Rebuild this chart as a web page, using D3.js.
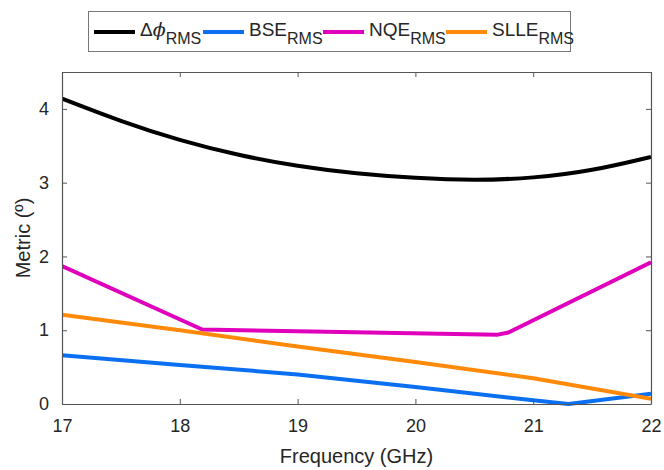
<!DOCTYPE html>
<html>
<head>
<meta charset="utf-8">
<script src="https://cdn.jsdelivr.net/npm/d3@7"></script>
<style>
  body { margin: 0; background: #fff; }
  text { font-family: 'Liberation Sans', Arial, sans-serif; fill: #262626; }
</style>
</head>
<body>
<div id="chart"></div>
<script>
// data
const phiFreq = [17, 17.5, 18, 18.5, 19, 19.5, 20, 20.5, 21, 21.5, 22];
const phiRms = [4.14, 3.83, 3.57, 3.37, 3.22, 3.12, 3.06, 3.03, 3.06, 3.16, 3.35];

const bseFreq = [17, 18, 19, 20, 21, 21.3, 22];
const bseRms = [0.66, 0.53, 0.4, 0.23, 0.05, 0.0, 0.14];

const nqeFreq = [17, 18.19, 20.7, 20.79, 22];
const nqeRms = [1.87, 1.01, 0.94, 0.97, 1.92];

const slleFreq = [17, 18, 19, 20, 21, 22];
const slleRms = [1.21, 1.0, 0.78, 0.57, 0.35, 0.07];

const xTicks = [17, 18, 19, 20, 21, 22];
const yTicks = [0, 1, 2, 3, 4];

const series = [
  { name: '\u0394\u03d5', x: phiFreq, y: phiRms, color: '#000000', curve: d3.curveBasis },
  { name: 'BSE', x: bseFreq, y: bseRms, color: '#0a6ff0', curve: d3.curveLinear },
  { name: 'NQE', x: nqeFreq, y: nqeRms, color: '#e000bc', curve: d3.curveLinear },
  { name: 'SLLE', x: slleFreq, y: slleRms, color: '#ff8a0a', curve: d3.curveLinear }
];

const W = 664, H = 470;
const margin = { top: 72, right: 13, bottom: 66, left: 62 };
const width = W - margin.left - margin.right;
const height = H - margin.top - margin.bottom;

const svg = d3.select('#chart').append('svg').attr('width', W).attr('height', H);

const g = svg.append('g').attr('transform', `translate(${margin.left},${margin.top})`);

const x = d3.scaleLinear().domain([17, 22]).range([0, width]);
const y = d3.scaleLinear().domain([0, 4.5]).range([height, 0]);

// lines
const line = d3.line().x((d) => x(d[0])).y((d) => y(d[1]));
g.append('clipPath').attr('id', 'clip')
  .append('rect').attr('x', 0).attr('y', -2).attr('width', width).attr('height', height + 4);

series.forEach((s) => {
  g.append('path')
    .datum(s.x.map((v, i) => [v, s.y[i]]))
    .attr('fill', 'none')
    .attr('stroke', s.color)
    .attr('stroke-width', 4)
    .attr('stroke-linejoin', 'round')
    .attr('clip-path', 'url(#clip)')
    .attr('d', line.curve(s.curve));
});

// axes (box with inward ticks)
const axisStyle = (sel) => {
  sel.select('.domain').attr('stroke', '#555').attr('stroke-width', 1.2);
  sel.selectAll('.tick line').attr('stroke', '#555');
};
const fmt = d3.format('d');

const xAxis = g.append('g').attr('transform', `translate(0,${height})`)
  .call(d3.axisBottom(x).tickValues(xTicks).tickFormat(fmt).tickSize(-5).tickPadding(15).tickSizeOuter(0));
xAxis.call(axisStyle);
xAxis.selectAll('.tick text').style('font-size', '18px').attr('fill', '#262626');

const xTop = g.append('g')
  .call(d3.axisTop(x).tickValues(xTicks).tickSize(-5).tickFormat('').tickSizeOuter(0));
xTop.call(axisStyle);

const yAxis = g.append('g')
  .call(d3.axisLeft(y).tickValues(yTicks).tickFormat(fmt).tickSize(-5).tickPadding(13).tickSizeOuter(0));
yAxis.call(axisStyle);
yAxis.selectAll('.tick text').style('font-size', '18px').attr('fill', '#262626');

const yRight = g.append('g').attr('transform', `translate(${width},0)`)
  .call(d3.axisRight(y).tickValues(yTicks).tickSize(-5).tickFormat('').tickSizeOuter(0));
yRight.call(axisStyle);

// axis labels
svg.append('text')
  .attr('x', margin.left + width / 2).attr('y', 463)
  .attr('text-anchor', 'middle').style('font-size', '20px')
  .text('Frequency (GHz)');

svg.append('text')
  .attr('transform', `translate(30,${margin.top + height / 2}) rotate(-90)`)
  .attr('text-anchor', 'middle').style('font-size', '20px')
  .text('Metric (\u00ba)');

// legend
const legend = svg.append('g');
legend.append('rect')
  .attr('x', 88.5).attr('y', 11.5).attr('width', 482).attr('height', 40)
  .attr('fill', '#fff').attr('stroke', '#777').attr('stroke-width', 1);

const legendX = [94, 203, 323, 446];
series.forEach((s, i) => {
  const lx = legendX[i];
  legend.append('line')
    .attr('x1', lx).attr('x2', lx + 41).attr('y1', 32).attr('y2', 32)
    .attr('stroke', s.color).attr('stroke-width', 4);
  const t = legend.append('text').attr('x', lx + 46).attr('y', 36).style('font-size', '19px');
  if (i === 0) {
    t.append('tspan').text('\u0394');
    t.append('tspan').style('font-style', 'italic').style('font-family', 'DejaVu Serif').text('\u03d5');
  } else {
    t.append('tspan').text(s.name);
  }
  t.append('tspan').attr('dy', 8).style('font-size', '16px').text('RMS');
});
</script>
</body>
</html>
